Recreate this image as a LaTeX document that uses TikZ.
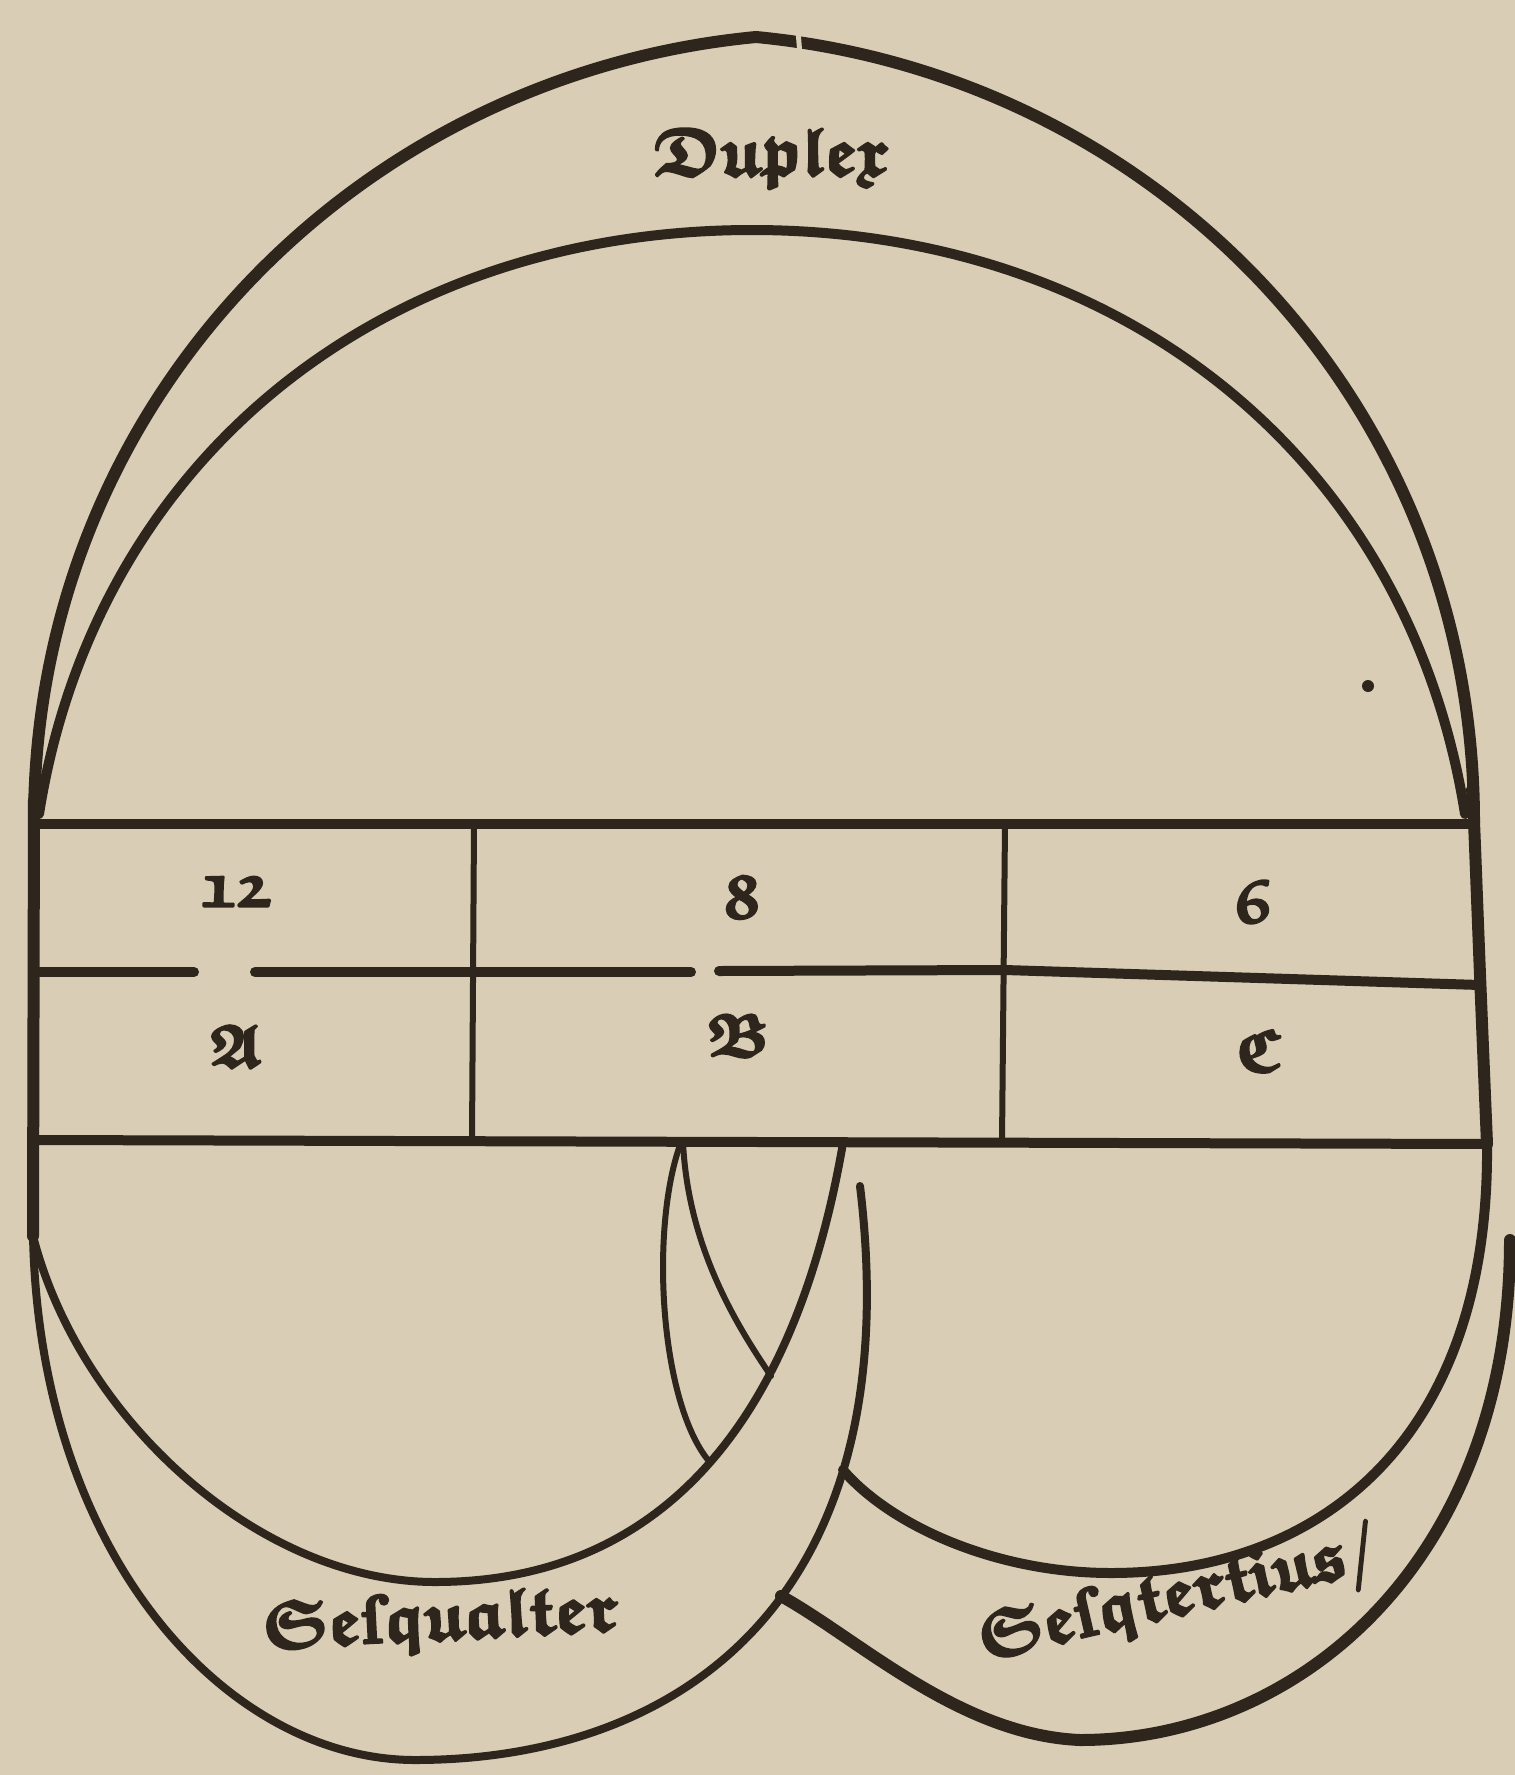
\documentclass[tikz,border=0pt]{standalone}
\usepackage{amssymb}
\definecolor{paper}{HTML}{D9CDB5}
\definecolor{ink}{HTML}{2E251C}
\newcommand{\gothw}[1]{{\boldmath$\mathfrak{#1}$}}
\newcommand{\longs}{{\bfseries ſ}}
\newcommand{\inked}[1]{\special{pdf:literal direct 2 Tr 2.5 w}#1\special{pdf:literal direct 0 Tr}}
\tikzset{
  heavy/.style={draw=ink, line width=12pt},
  medium/.style={draw=ink, line width=10pt},
  slim/.style={draw=ink, line width=8pt},
  light/.style={draw=ink, line width=6pt},
  lbl/.style={text=ink, inner sep=0pt, font=\fontsize{60}{68}\selectfont},
  bigword/.style={text=ink, inner sep=0pt, font=\fontsize{68}{76}\selectfont},
}
\begin{document}
\begin{tikzpicture}[x=1pt, y=-1pt, line cap=round, line join=round]
\fill[paper] (0,0) rectangle (1515,1775);
\useasboundingbox (0,0) rectangle (1515,1775);

% Duplex band
\draw[heavy] (34,822) .. controls (34,402) and (356,75) .. (756,37)
                      .. controls (1156,75) and (1474,402) .. (1474,822);
\draw[paper, line width=5pt] (798,30) -- (800,56);
\draw[medium] (39,814) .. controls (95,460) and (380,230) .. (752,230)
                       .. controls (1124,230) and (1409,460) .. (1465,814);

% side borders
\draw[heavy] (34,800) -- (33,1236);
\draw[heavy] plot[smooth, tension=0.5] coordinates {(1472,790) (1474,822) (1480,975) (1487,1144)};

% table
\draw[medium] (40,824) -- (1472,824);
\draw[medium] (40,972) -- (194,972);
\draw[medium] (255,972) -- (691,972);
\draw[medium] (719,971) -- (1005,970) -- (1480,985);
\draw[medium] (38,1140) -- (1487,1144);
\draw[light] (474,824) -- (472,1140);
\draw[light] (1005,824) -- (1002,1142);

% Sesqtertius band
\draw[medium] (1487,1144) .. controls (1490,1440) and (1320,1573) .. (1111,1573)
                          .. controls (995,1573) and (890,1525) .. (843,1470);
\draw[light] (683,1142) .. controls (688,1250) and (740,1330) .. (771,1376);
\draw[heavy] (1510,1240) .. controls (1510,1560) and (1300,1740) .. (1080,1740)
                         .. controls (960,1735) and (860,1640) .. (781,1596);
\draw[light] (680,1145) .. controls (650,1230) and (660,1400) .. (708,1460);

% Sesqualter band
\draw[slim] (33,1236) .. controls (80,1420) and (260,1582) .. (435,1582)
                      .. controls (640,1582) and (790,1450) .. (843,1143);
\draw[slim] (33,1236) .. controls (40,1560) and (230,1760) .. (415,1760)
                      .. controls (680,1760) and (910,1600) .. (860,1186);

% stray dot
\fill[ink] (1368,686) circle (6);

% texts
\node[bigword] (duplex) at (771,158) {\inked{\gothw{Duplex}}};
\node[lbl] (n12) at (236,892) {\inked{\gothw{12}}};
\node[lbl] (n8) at (742,898) {\inked{\gothw{8}}};
\node[lbl] (n6) at (1253,902) {\inked{\gothw{6}}};
\node[lbl] (nA) at (236,1046) {\inked{\gothw{A}}};
\node[lbl] (nB) at (738,1035) {\inked{\gothw{B}}};
\node[lbl] (nC) at (1258,1050) {\inked{\gothw{C}}};
\node[bigword, rotate=3] (sesqualter) at (440,1622) {\inked{\gothw{Se}\longs\gothw{qualter}}};
\node[bigword, rotate=13] (sesqtertius) at (1178,1598) {\inked{\gothw{Se}\longs\gothw{qtertius}/}};
\end{tikzpicture}
\end{document}
